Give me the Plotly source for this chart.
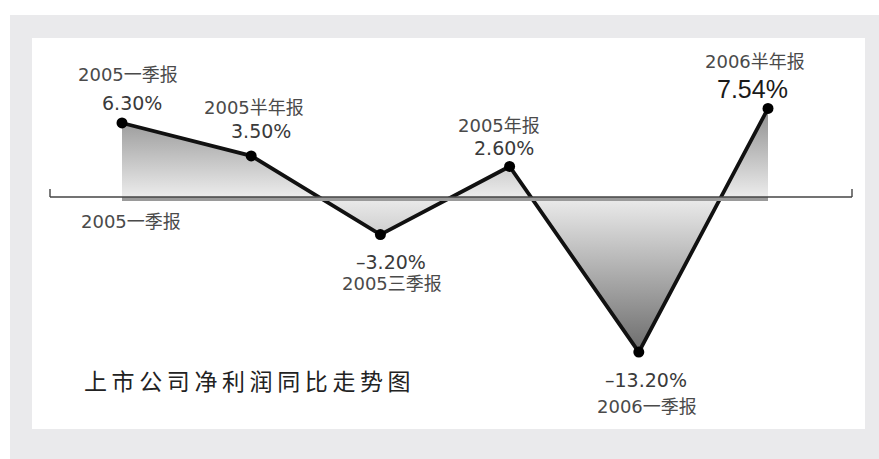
import plotly.graph_objects as go

# ---- data ----
categories = ["2005一季报", "2005半年报", "2005三季报", "2005年报", "2006一季报", "2006半年报"]
values = [6.30, 3.50, -3.20, 2.60, -13.20, 7.54]
axis_label = "2005一季报"
title_text = "上市公司净利润同比走势图"

# ---- layout geometry (pixels) ----
W, H = 879, 459
x0_px, dx_px = 122, 129.2     # pixel of first category, pixel step
y0_px, dy_px = 197, 11.75     # pixel of zero line, pixels per unit
x_range = [-x0_px / dx_px, (W - x0_px) / dx_px]
y_range = [-(H - y0_px) / dy_px, y0_px / dy_px]

n = len(categories)
xs = list(range(n))
vmin, vmax = min(values), max(values)
zfrac = -vmin / (vmax - vmin)

fig = go.Figure()

fig.add_trace(go.Scatter(
    x=xs, y=values, mode="lines+markers",
    line=dict(color="#111111", width=3.8),
    marker=dict(color="#000000", size=11),
    fill="tozeroy",
    fillgradient=dict(
        type="vertical",
        colorscale=[[0, "#6c6c6c"], [zfrac, "#ececec"], [1, "#8e8e8e"]],
        start=vmin, stop=vmax,
    ),
    hoverinfo="skip", showlegend=False,
))

shapes = []
# outer gray frame and white panel (paper coords)
shapes.append(dict(type="rect", xref="paper", yref="paper",
                   x0=10 / W, x1=1, y0=0, y1=1 - 15 / H,
                   fillcolor="#eaeaec", line=dict(width=0), layer="below"))
shapes.append(dict(type="rect", xref="paper", yref="paper",
                   x0=32 / W, x1=865 / W, y0=1 - 429 / H, y1=1 - 38 / H,
                   fillcolor="#ffffff", line=dict(width=0), layer="below"))
# axis
ax_l = (50 - x0_px) / dx_px
ax_r = (852 - x0_px) / dx_px
tick_h = 8 / dy_px
shapes.append(dict(type="rect", xref="x", yref="y",
                   x0=0, x1=n - 1, y0=-4 / dy_px, y1=0,
                   fillcolor="#9a9a9a", line=dict(width=0), layer="above"))
shapes.append(dict(type="line", xref="x", yref="y",
                   x0=ax_l, x1=ax_r, y0=0, y1=0,
                   line=dict(color="#444444", width=1.6), layer="above"))
shapes.append(dict(type="line", xref="x", yref="y",
                   x0=ax_l, x1=ax_l, y0=0, y1=tick_h,
                   line=dict(color="#444444", width=1.4), layer="above"))
shapes.append(dict(type="line", xref="x", yref="y",
                   x0=ax_r, x1=ax_r, y0=0, y1=tick_h,
                   line=dict(color="#444444", width=1.4), layer="above"))

# label offsets (pixels; dx right, dy down)
name_off = [(6, -48), (3, -48), (12, 49), (-11, -41), (8, 54), (-13, -47)]
pct_off = [(10, -20), (10, -25), (11, 27), (-6, -18), (7, 28), (-16, -19)]

name_font = dict(family="DejaVu Sans, Noto Sans CJK SC", size=18, color="#4a4a4a")
pct_font = dict(family="DejaVu Sans, Noto Sans CJK SC", size=19, color="#3a3a3a")
big_font = dict(family="Liberation Sans, Arial", size=25, color="#1a1a1a")

annotations = []
for i, (c, v) in enumerate(zip(categories, values)):
    pct = f"{v:.2f}%".replace("-", "–")
    annotations.append(dict(x=xs[i], y=v, xref="x", yref="y", text=c,
                            showarrow=False, xanchor="center", yanchor="middle",
                            xshift=name_off[i][0], yshift=-name_off[i][1],
                            font=name_font))
    annotations.append(dict(x=xs[i], y=v, xref="x", yref="y", text=pct,
                            showarrow=False, xanchor="center", yanchor="middle",
                            xshift=pct_off[i][0], yshift=-pct_off[i][1],
                            font=big_font if v == vmax else pct_font))

annotations.append(dict(x=xs[0], y=0, xref="x", yref="y", text=axis_label,
                        showarrow=False, xanchor="center", yanchor="middle",
                        xshift=9, yshift=-24, font=name_font))

annotations.append(dict(x=82 / W, y=1 - 380 / H, xref="paper", yref="paper",
                        text="\u2009".join(title_text), showarrow=False,
                        xanchor="left", yanchor="middle",
                        font=dict(family="Noto Sans CJK SC", size=23, color="#222222")))

fig.update_layout(
    width=W, height=H,
    margin=dict(l=0, r=0, t=0, b=0),
    paper_bgcolor="#ffffff", plot_bgcolor="rgba(0,0,0,0)",
    xaxis=dict(range=x_range, visible=False, fixedrange=True),
    yaxis=dict(range=y_range, visible=False, fixedrange=True),
    shapes=shapes, annotations=annotations,
    showlegend=False,
)

fig.write_html("out.html", config={"displayModeBar": False})
